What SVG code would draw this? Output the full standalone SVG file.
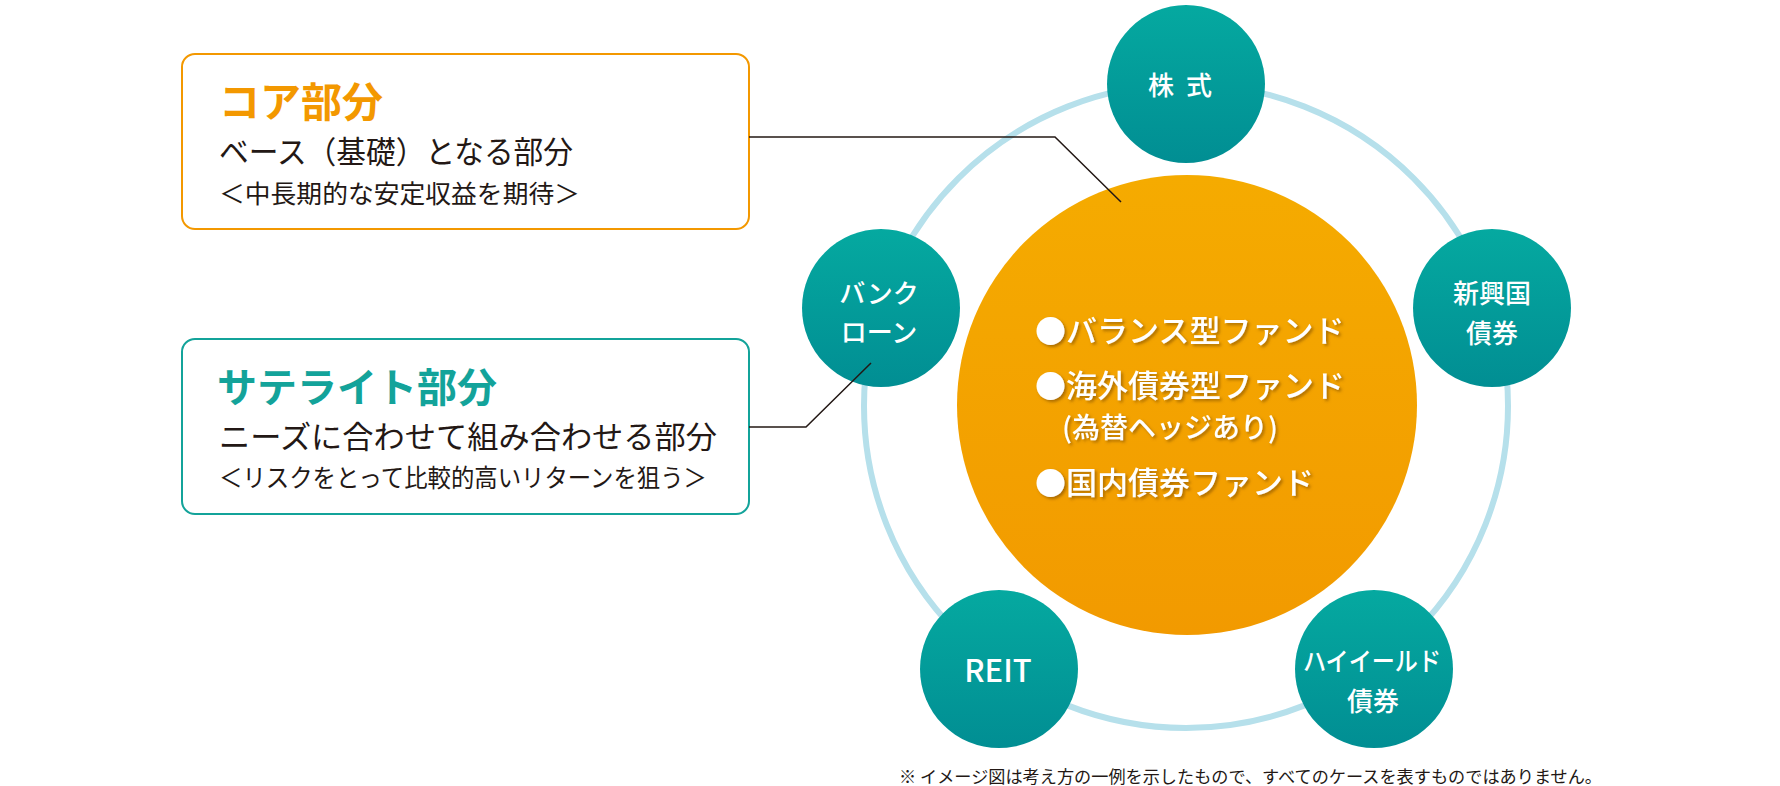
<svg xmlns="http://www.w3.org/2000/svg" width="1780" height="786" viewBox="0 0 1780 786">
<defs>
<linearGradient id="teal" x1="0" y1="0" x2="0" y2="1">
<stop offset="0" stop-color="#05a9a0"/>
<stop offset="1" stop-color="#018e93"/>
</linearGradient>
<linearGradient id="orange" x1="0" y1="0" x2="0" y2="1">
<stop offset="0" stop-color="#f5ab00"/>
<stop offset="1" stop-color="#f29a00"/>
</linearGradient>
<filter id="shadow" x="-10%" y="-30%" width="120%" height="160%">
<feDropShadow dx="2" dy="2" stdDeviation="1.5" flood-color="#7a4a00" flood-opacity="0.6"/>
</filter>
</defs>
<style>
text{font-family:"Noto Sans CJK JP","Noto Sans",sans-serif;}
.box{fill:#ffffff;stroke-width:2;}
.sat{fill:url(#teal);}
.satlabel{fill:#ffffff;font-size:26px;font-weight:500;text-anchor:middle;}
.center{fill:#ffffff;font-size:31px;font-weight:500;filter:url(#shadow);}
.body{fill:#231815;font-size:31px;}
.sub{fill:#231815;font-size:25px;}
.conn{fill:none;stroke:#231815;stroke-width:1.5;}
</style>
<circle id="ring" cx="1186" cy="406" r="322" fill="none" stroke="#b6e0eb" stroke-width="6"/>
<g id="core-circle">
<circle cx="1187" cy="405" r="230" fill="url(#orange)"/>
<text class="center" x="1035" y="342">●バランス型ファンド</text>
<text class="center" x="1035" y="397">●海外債券型ファンド</text>
<text class="center" x="1062" y="438" style="font-size:28px" textLength="216" lengthAdjust="spacingAndGlyphs">(為替ヘッジあり)</text>
<text class="center" x="1035" y="494">●国内債券ファンド</text>
</g>
<g id="kabushiki">
<circle class="sat" cx="1186" cy="84" r="79"/>
<text class="satlabel" x="1186" y="95" letter-spacing="12">株式</text>
</g>
<g id="shinkoukoku">
<circle class="sat" cx="1492" cy="308" r="79"/>
<text class="satlabel" x="1492" y="303">新興国</text>
<text class="satlabel" x="1492" y="343">債券</text>
</g>
<g id="highyield">
<circle class="sat" cx="1374" cy="669" r="79"/>
<text class="satlabel" x="1372" y="671" textLength="138" lengthAdjust="spacingAndGlyphs">ハイイールド</text>
<text class="satlabel" x="1373" y="711">債券</text>
</g>
<g id="reit">
<circle class="sat" cx="999" cy="669" r="79"/>
<text class="satlabel" x="998" y="682" style="font-size:31px">REIT</text>
</g>
<g id="bankloan">
<circle class="sat" cx="881" cy="308" r="79"/>
<text class="satlabel" x="879" y="303">バンク</text>
<text class="satlabel" x="879" y="342">ローン</text>
</g>
<g id="core-box">
<rect class="box" x="182" y="54" width="567" height="175" rx="13" stroke="#f39800"/>
<text x="219" y="117" fill="#f39800" font-size="41" font-weight="700">コア部分</text>
<text class="body" x="219" y="163" textLength="354" lengthAdjust="spacingAndGlyphs">ベース（基礎）となる部分</text>
<text class="sub" x="219" y="203" textLength="361" lengthAdjust="spacingAndGlyphs">＜中長期的な安定収益を期待＞</text>
</g>
<g id="satellite-box">
<rect class="box" x="182" y="339" width="567" height="175" rx="13" stroke="#13a39a"/>
<text x="217" y="402" fill="#13a39a" font-size="40" font-weight="700">サテライト部分</text>
<text class="body" x="219" y="448" textLength="498" lengthAdjust="spacingAndGlyphs">ニーズに合わせて組み合わせる部分</text>
<text class="sub" x="219" y="487" textLength="488" lengthAdjust="spacingAndGlyphs">＜リスクをとって比較的高いリターンを狙う＞</text>
</g>
<g id="connectors">
<polyline class="conn" points="749,137 1055,137 1121,202"/>
<polyline class="conn" points="749,427 806,427 871,363"/>
</g>
<text id="footnote" x="899" y="783" fill="#231815" font-size="17" textLength="703" lengthAdjust="spacingAndGlyphs">※ イメージ図は考え方の一例を示したもので、すべてのケースを表すものではありません。</text>
</svg>
